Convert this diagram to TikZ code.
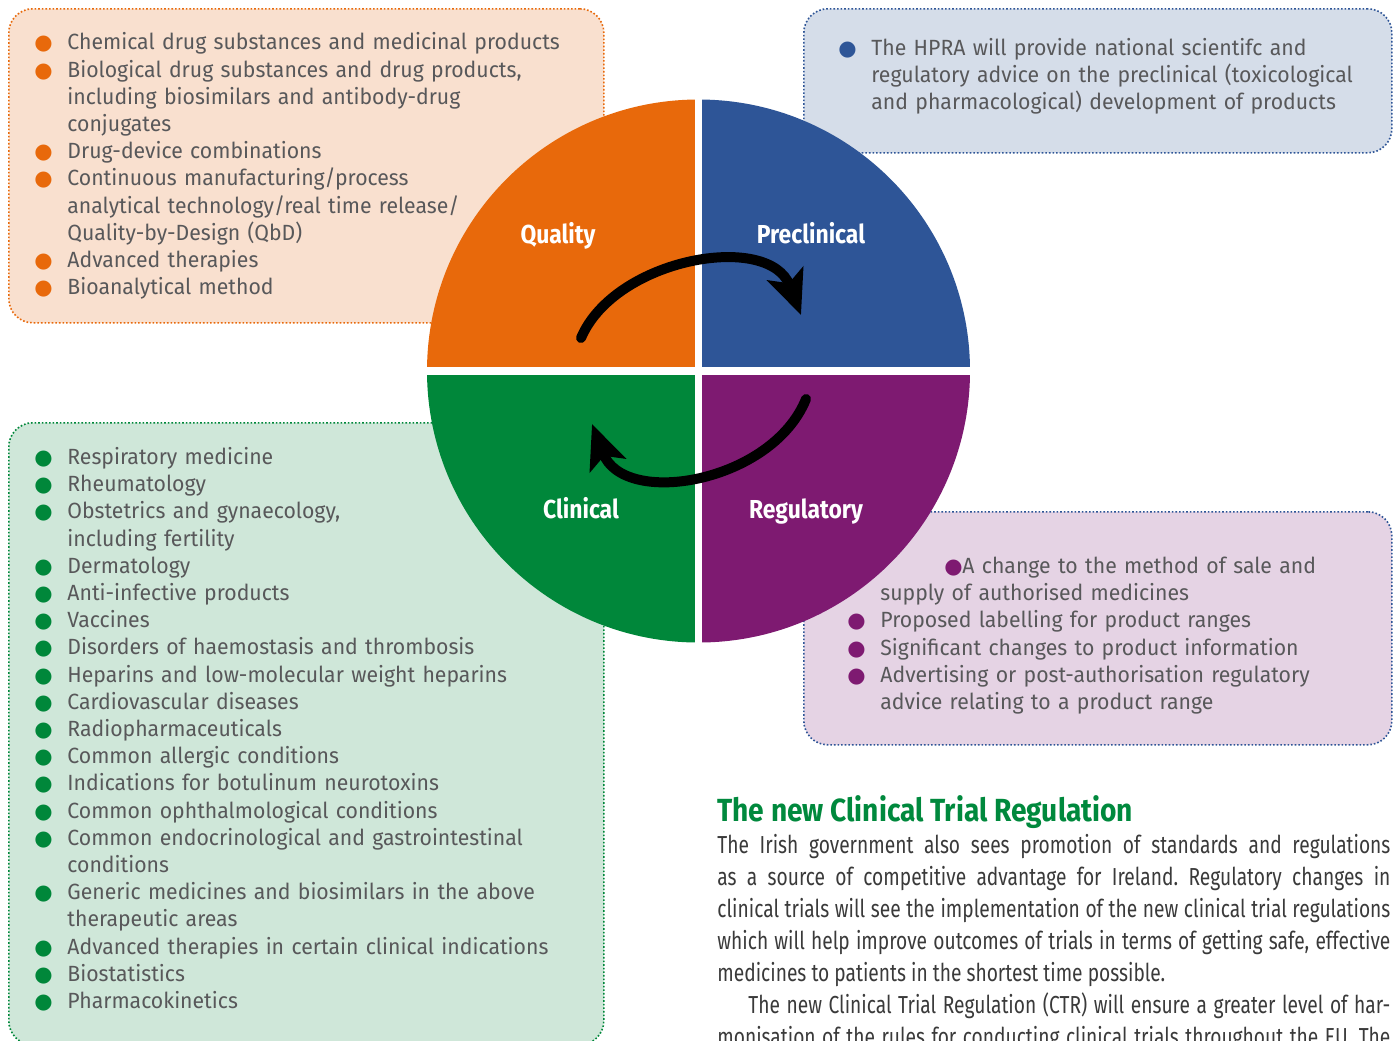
\documentclass[tikz,border=0pt]{standalone}
\usepackage{fontspec}
\setmainfont{Fira Sans}
\newfontfamily\listsans[FakeStretch=0.965]{Fira Sans}
\newfontfamily\narrowsans[FakeStretch=0.78]{Fira Sans}
\newfontfamily\labelsans[FakeStretch=0.88]{Fira Sans}
\newfontfamily\dotfont{DejaVu Sans}
\usetikzlibrary{arrows.meta,positioning}
\definecolor{qorange}{HTML}{E8690B}
\definecolor{pblue}{HTML}{2E5597}
\definecolor{cgreen}{HTML}{00873A}
\definecolor{rpurple}{HTML}{7E1A71}
\definecolor{qorangebg}{HTML}{F9E0CF}
\definecolor{pbluebg}{HTML}{D5DDE9}
\definecolor{cgreenbg}{HTML}{CFE7D9}
\definecolor{rpurplebg}{HTML}{E5D3E4}
\definecolor{titlegreen}{HTML}{00893D}
\definecolor{listgray}{HTML}{58585A}
\definecolor{bodygray}{HTML}{3A3A3A}

\newcommand{\bul}[1]{{\dotfont\fontsize{10.5}{10.5}\selectfont\textcolor{#1}{●}}}
\newcommand{\itm}[2]{\noindent\hangindent=15pt\hangafter=1\strut\makebox[15pt][l]{\hspace*{-1.5pt}\bul{#1}}#2\par}
\newcommand{\jline}[1]{\strut\makebox[336.5pt][s]{#1}}

\begin{document}
\begin{tikzpicture}[x=0.5pt, y=-0.5pt,
    box/.style={rounded corners=12pt, line width=0.8pt, dash pattern=on 0.8pt off 1pt,
                inner sep=0pt, anchor=north west},
    list/.style={inner sep=0pt, align=left, text=listgray,
                 font=\listsans\fontsize{11}{13.6}\selectfont},
    qlabel/.style={text=white, inner sep=0pt, anchor=base,
                   font=\labelsans\bfseries\fontsize{13}{13}\selectfont},
    cyc/.style={line width=5pt, line cap=round,
                -{Stealth[length=22pt, width=19pt, inset=5pt]}}
  ]
  \path[use as bounding box, fill=white] (0,0) rectangle (1400,1040);

  \node[box, draw=qorange, fill=qorangebg, minimum width=297.5pt, minimum height=157pt] (qbox) at (8,8) {};
  \node[box, draw=pblue, fill=pbluebg, minimum width=294pt, minimum height=72pt] (pbox) at (803,8) {};
  \node[box, draw=cgreen, fill=cgreenbg, minimum width=297.5pt, minimum height=311pt] (cbox) at (8,422) {};
  \node[box, draw=pblue, fill=rpurplebg, minimum width=294pt, minimum height=116.5pt] (rbox) at (803,511) {};

  \node[list, text width=285pt, below right=11.25pt and 14.5pt of qbox.north west] (qlist) {%
    \itm{qorange}{Chemical drug substances and medicinal products}
    \itm{qorange}{Biological drug substances and drug products,\newline including biosimilars and antibody-drug\newline conjugates}
    \itm{qorange}{Drug-device combinations}
    \itm{qorange}{Continuous manufacturing/process\newline analytical technology/real time release/\newline Quality-by-Design (QbD)}
    \itm{qorange}{Advanced therapies}
    \itm{qorange}{Bioanalytical method}};
  \node[list, text width=275pt, below right=14pt and 19pt of pbox.north west] (plist) {%
    \itm{pblue}{The HPRA will provide national scientifc and\newline regulatory advice on the preclinical (toxicological\newline and pharmacological) development of products}};
  \node[list, text width=285pt, below right=11.5pt and 14.5pt of cbox.north west] (clist) {%
    \itm{cgreen}{Respiratory medicine}
    \itm{cgreen}{Rheumatology}
    \itm{cgreen}{Obstetrics and gynaecology,\newline including fertility}
    \itm{cgreen}{Dermatology}
    \itm{cgreen}{Anti-infective products}
    \itm{cgreen}{Vaccines}
    \itm{cgreen}{Disorders of haemostasis and thrombosis}
    \itm{cgreen}{Heparins and low-molecular weight heparins}
    \itm{cgreen}{Cardiovascular diseases}
    \itm{cgreen}{Radiopharmaceuticals}
    \itm{cgreen}{Common allergic conditions}
    \itm{cgreen}{Indications for botulinum neurotoxins}
    \itm{cgreen}{Common ophthalmological conditions}
    \itm{cgreen}{Common endocrinological and gastrointestinal\newline conditions}
    \itm{cgreen}{Generic medicines and biosimilars in the above\newline therapeutic areas}
    \itm{cgreen}{Advanced therapies in certain clinical indications}
    \itm{cgreen}{Biostatistics}
    \itm{cgreen}{Pharmacokinetics}};
  \node[list, text width=265pt, below right=21.5pt and 23.5pt of rbox.north west] (rlist) {%
    \noindent\hangindent=15pt\hangafter=1\strut\hspace*{47pt}\makebox[9pt][l]{\bul{rpurple}}A change to the method of sale and\newline supply of authorised medicines\par
    \itm{rpurple}{Proposed labelling for product ranges}
    \itm{rpurple}{Significant changes to product information}
    \itm{rpurple}{Advertising or post-authorisation regulatory\newline advice relating to a product range}};

  \coordinate (hub) at (698.5,371);
  \begin{scope}
    \clip (hub) circle[radius=271.5];
    \fill[qorange] ([shift={(-3.5,-4)}]hub) rectangle +(-280,-280);
    \fill[pblue] ([shift={(3.5,-4)}]hub) rectangle +(280,-280);
    \fill[cgreen] ([shift={(-3.5,4)}]hub) rectangle +(-280,280);
    \fill[rpurple] ([shift={(3.5,4)}]hub) rectangle +(280,280);
  \end{scope}

  \node[qlabel] (qual) at (558,243) {Quality};
  \node[qlabel] (precl) at (811,243) {Preclinical};
  \node[qlabel] (clin) at (581,518) {Clinical};
  \node[qlabel] (regul) at (806,518) {Regulatory};

  \coordinate (qtail) at (581,338);
  \coordinate (ptip) at (801,315);
  \coordinate (rtail) at (806,399);
  \coordinate (ctip) at (592,424);
  \draw[cyc] (qtail) .. controls +(34,-80) and +(-32,-84) .. (ptip);
  \draw[cyc] (rtail) .. controls +(-34,84) and +(32,84) .. (ctip);

  \node[anchor=base west, inner sep=0pt, text=titlegreen,
        font=\labelsans\bfseries\fontsize{16}{16}\selectfont] (ctrhead) at (717,821) {The new Clinical Trial Regulation};
  \node[anchor=north west, inner sep=0pt, align=left, text=bodygray,
        font=\narrowsans\frenchspacing\fontsize{12.3}{16}\selectfont] (ctrtext) at (717,830.6) {%
    \jline{The Irish government also sees promotion of standards and regulations}\\
    \jline{as a source of competitive advantage for Ireland. Regulatory changes in}\\
    \jline{clinical trials will see the implementation of the new clinical trial regulations}\\
    \jline{which will help improve outcomes of trials in terms of getting safe, effective}\\
    \strut medicines to patients in the shortest time possible.\\
    \strut\hspace*{15.5pt}\makebox[321pt][s]{The new Clinical Trial Regulation (CTR) will ensure a greater level of har-}\\
    \jline{monisation of the rules for conducting clinical trials throughout the EU. The}};
\end{tikzpicture}
\end{document}
